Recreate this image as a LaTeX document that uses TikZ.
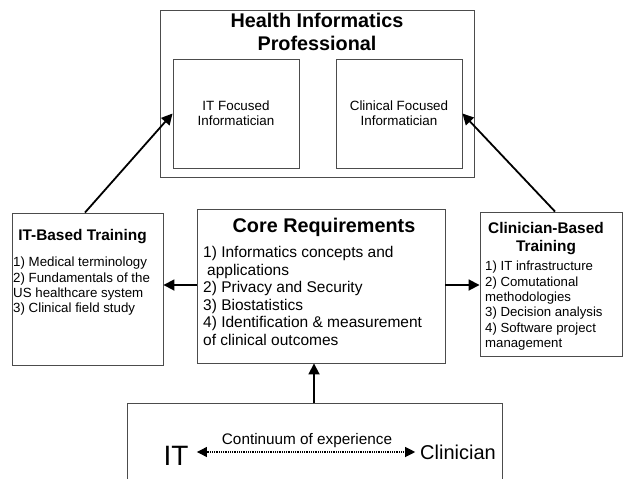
\documentclass[tikz,border=0pt]{standalone}
\usepackage{fontspec}
\setmainfont{Liberation Sans}
\usetikzlibrary{arrows.meta}
\begin{document}
\begin{tikzpicture}[x=1pt,y=-1pt,
  box/.style args={#1/#2}{draw=black!70, line width=0.9pt, inner sep=0pt,
    minimum width=#1pt, minimum height=#2pt},
  boxline/.style={draw=black!70, line width=0.9pt},
  arr/.style={line width=1.8pt, -{Triangle[length=11pt,width=11pt]}},
  dotarr/.style={line width=1.1pt, dash pattern=on 0.9pt off 0.9pt,
    {Triangle[length=10pt,width=10pt]}-{Triangle[length=10pt,width=10pt]}},
  bigtitle/.style={font=\bfseries\fontsize{19.8pt}{22.5pt}\selectfont, align=center, inner sep=0pt},
  midtitle/.style={font=\bfseries\fontsize{15.4pt}{18pt}\selectfont, align=center, inner sep=0pt},
  coretext/.style={font=\fontsize{15.5pt}{17.6pt}\selectfont, align=left, inner sep=0pt},
  smalltext/.style={font=\fontsize{13.3pt}{15.3pt}\selectfont, align=left, inner sep=0pt},
  innertext/.style={font=\fontsize{13.4pt}{15pt}\selectfont, align=center, inner sep=0pt}
]
\useasboundingbox (0,0) rectangle (624,479);

% top group
\node[box=314/167] (outer) at (317,93.5) {};
\node[bigtitle] (toptitle) at (317,32) {Health Informatics\\Professional};
\node[box=126/109] (innerL) at (236,113.5) {};
\node[box=126/109] (innerR) at (399,113.5) {};
\node[innertext] (innerLt) at (innerL) {IT Focused\\Informatician};
\node[innertext] (innerRt) at (innerR) {Clinical Focused\\Informatician};

% IT-based training
\node[box=151/152] (itb) at (87.5,289) {};
\node[midtitle] (itbt) at (82.5,237) {IT-Based Training};
\node[smalltext, anchor=north west] (itbb) at (13,257)
  {1) Medical terminology\\2) Fundamentals of the\\US healthcare system\\3) Clinical field study};

% core requirements
\node[box=248/154] (core) at (321,286) {};
\node[bigtitle] (coret) at (324,227) {Core Requirements};
\node[coretext, anchor=north west] (coreb) at (203,246)
  {1) Informatics concepts and\\\hspace*{4pt}applications\\2) Privacy and Security\\3) Biostatistics\\4) Identification \& measurement\\of clinical outcomes};

% clinician-based training
\node[box=142/144] (clin) at (551,284) {};
\node[midtitle] (clint) at (546,239) {Clinician-Based\\Training};
\node[smalltext, anchor=north west, font=\fontsize{13.2pt}{15.4pt}\selectfont] (clinb) at (485,261)
  {1) IT infrastructure\\2) Comutational\\methodologies\\3) Decision analysis\\4) Software project\\management};

% bottom continuum box (open at the bottom)
\coordinate (bl) at (127,481);
\coordinate (br) at (502,481);
\draw[boxline] (bl) |- (br |- 0,403) -- (br);
\coordinate (bt) at (314,403);
\node[font=\fontsize{28pt}{32pt}\selectfont, inner sep=0pt, outer xsep=8.5pt] (itl) at (176,456) {IT};
\node[font=\fontsize{20pt}{24pt}\selectfont, inner sep=0pt, outer xsep=5pt] (cll) at (458,452) {Clinician};
\coordinate (ay) at (0,452);
\draw[dotarr] (itl.east |- ay) -- (cll.west |- ay);
\node[font=\fontsize{15.3pt}{18pt}\selectfont, inner sep=0pt] (cont) at (307,441) {Continuum of experience};

% connectors
\draw[arr] (core.west |- 0,285) -- (itb.east |- 0,285);
\draw[arr] (core.east |- 0,285) -- (clin.west |- 0,285);
\draw[arr] (bt) -- (bt |- core.south);
\draw[arr] ([xshift=-2.5pt]itb.north) -- (innerL.west);
\draw[arr] ([xshift=4pt]clin.north) -- (innerR.east);
\end{tikzpicture}
\end{document}
